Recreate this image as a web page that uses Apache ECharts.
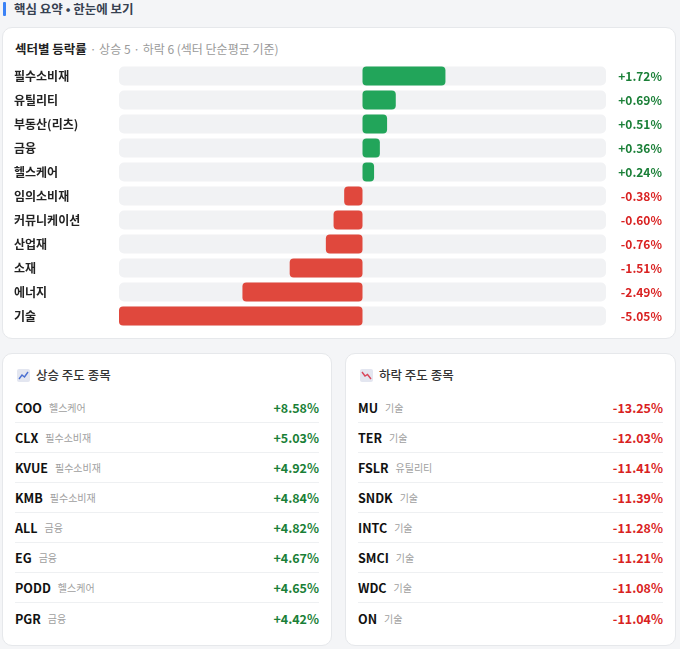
<!DOCTYPE html>
<html>
<head>
<meta charset="utf-8">
<script src="https://cdn.jsdelivr.net/npm/echarts@6/dist/echarts.min.js"></script>
<style>
  html, body { margin: 0; padding: 0; }
  body {
    width: 680px; height: 649px; position: relative; overflow: hidden;
    background: #f4f5f7;
    font-family: "Noto Sans CJK KR", "Noto Sans", sans-serif;
  }
  .hdr-bar { position: absolute; left: 3px; top: 2px; width: 3px; height: 14px; background: #3b82f6; border-radius: 1px; }
  .hdr { position: absolute; left: 14px; top: 0px; font-size: 12.5px; line-height: 17px; color: #374151; font-weight: 600; }
  .card { position: absolute; background: #fff; border: 1px solid #e6e8eb; border-radius: 10px; box-sizing: border-box; }
  .ttl { position: absolute; left: 12px; font-size: 12.5px; line-height: 16px; color: #222; font-weight: 700; white-space: nowrap; }
  .ttl span { color: #9a9a9a; font-weight: 400; font-size: 12px; }
  #chart { position: absolute; left: 0; top: 58px; width: 680px; height: 280px; }
  .lt { position: absolute; left: 14px; top: 13px; font-size: 12.5px; line-height: 16px; color: #333; font-weight: 500; display: flex; align-items: center; }
  .lt svg { margin-right: 6px; }
  .row { position: absolute; left: 12px; right: 12px; height: 30px; display: flex; align-items: center; box-sizing: border-box; }
  .row.sep { border-bottom: 1px solid #eef0f2; }
  .tk { font-size: 12.5px; font-weight: 700; color: #111; }
  .sc { font-size: 10px; color: #a0a0a0; margin-left: 7px; }
  .vl { margin-left: auto; font-size: 12.5px; font-weight: 700; }
  .up { color: #1a7f37; }
  .dn { color: #d92121; }
</style>
</head>
<body>
<div class="hdr-bar"></div>
<div class="hdr">핵심 요약 • 한눈에 보기</div>

<div class="card" style="left:2px; top:27px; width:674px; height:312px;">
  <div class="ttl" style="top:13px;">섹터별 등락률 <span>· 상승 5 · 하락 6 (섹터 단순평균 기준)</span></div>
</div>
<div id="chart"></div>

<div class="card" id="gainCard" style="left:2px; top:353px; width:330px; height:293px;">
  <div class="lt">
    <svg width="13" height="13" viewBox="0 0 13 13"><rect x="0" y="0" width="13" height="13" rx="2" fill="#e3e6f0"/><polyline points="2,10 5,6 7.5,8 11,3" fill="none" stroke="#4a6fd1" stroke-width="1.4"/></svg>
    상승 주도 종목
  </div>
</div>
<div class="card" id="loseCard" style="left:345px; top:353px; width:331px; height:293px;">
  <div class="lt">
    <svg width="13" height="13" viewBox="0 0 13 13"><rect x="0" y="0" width="13" height="13" rx="2" fill="#e3e6f0"/><polyline points="2,3 5,7 7.5,5.5 11,10" fill="none" stroke="#d9465a" stroke-width="1.4"/></svg>
    하락 주도 종목
  </div>
</div>

<script>
// 섹터별 등락률
const sectors = ['필수소비재', '유틸리티', '부동산(리츠)', '금융', '헬스케어', '임의소비재', '커뮤니케이션', '산업재', '소재', '에너지', '기술'];
const sectorChange = [1.72, 0.69, 0.51, 0.36, 0.24, -0.38, -0.60, -0.76, -1.51, -2.49, -5.05];

// 상승 주도 종목
const gainTickers = ['COO', 'CLX', 'KVUE', 'KMB', 'ALL', 'EG', 'PODD', 'PGR'];
const gainSectors = ['헬스케어', '필수소비재', '필수소비재', '필수소비재', '금융', '금융', '헬스케어', '금융'];
const gainValues = [8.58, 5.03, 4.92, 4.84, 4.82, 4.67, 4.65, 4.42];

// 하락 주도 종목
const loseTickers = ['MU', 'TER', 'FSLR', 'SNDK', 'INTC', 'SMCI', 'WDC', 'ON'];
const loseSectors = ['기술', '기술', '유틸리티', '기술', '기술', '기술', '기술', '기술'];
const loseValues = [-13.25, -12.03, -11.41, -11.39, -11.28, -11.21, -11.08, -11.04];

const fmt = v => (v > 0 ? '+' : '') + v.toFixed(2) + '%';
const FONT = '"Noto Sans CJK KR", "Noto Sans", sans-serif';

const maxAbs = Math.max.apply(null, sectorChange.map(Math.abs));

const myChart = echarts.init(document.getElementById('chart'));
myChart.setOption({
  animation: false,
  grid: { left: 119, right: 74, top: 6, height: 264 },
  xAxis: {
    type: 'value', min: -maxAbs, max: maxAbs,
    show: false
  },
  yAxis: [
    {
      type: 'category', data: sectors, inverse: true,
      axisLine: { show: false }, axisTick: { show: false },
      axisLabel: { align: 'left', margin: 105, fontSize: 12, fontWeight: 'bold', color: '#222', fontFamily: FONT }
    },
    {
      type: 'category', data: sectorChange.map(fmt), inverse: true, position: 'right',
      axisLine: { show: false }, axisTick: { show: false },
      axisLabel: {
        align: 'right', margin: 56, fontSize: 12, fontWeight: 'bold', fontFamily: FONT,
        color: (val, i) => sectorChange[i] >= 0 ? '#1a7f37' : '#d92121'
      }
    }
  ],
  series: [{
    type: 'bar',
    data: sectorChange.map(v => ({
      value: v,
      itemStyle: { color: v >= 0 ? '#22a55a' : '#e0483d' }
    })),
    barWidth: 19,
    itemStyle: { borderRadius: 4 },
    showBackground: true,
    backgroundStyle: { color: '#f1f2f4', borderRadius: 5 }
  }]
});

function fillList(cardId, tickers, secs, vals, cls) {
  const card = document.getElementById(cardId);
  tickers.forEach((t, i) => {
    const row = document.createElement('div');
    row.className = 'row' + (i < tickers.length - 1 ? ' sep' : '');
    row.style.top = (39 + i * 30) + 'px';
    row.innerHTML = '<span class="tk">' + t + '</span><span class="sc">' + secs[i] +
      '</span><span class="vl ' + cls + '">' + fmt(vals[i]) + '</span>';
    card.appendChild(row);
  });
}
fillList('gainCard', gainTickers, gainSectors, gainValues, 'up');
fillList('loseCard', loseTickers, loseSectors, loseValues, 'dn');
</script>
</body>
</html>
